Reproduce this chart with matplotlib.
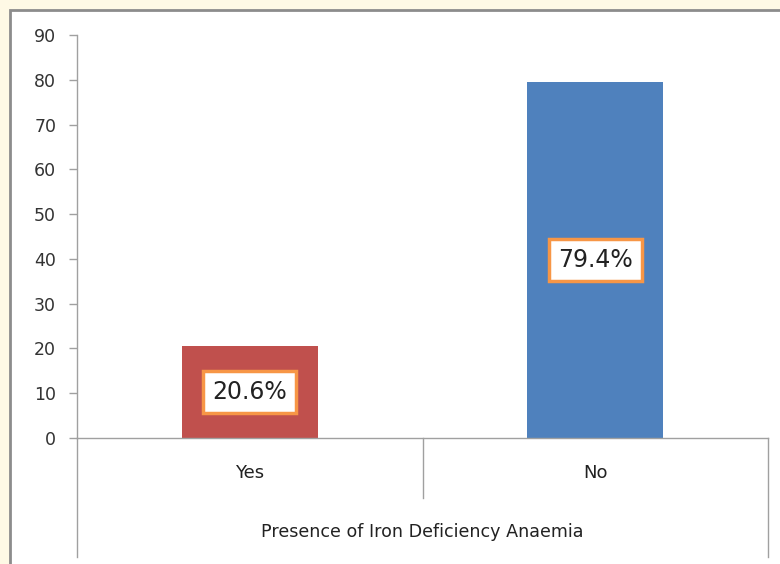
import matplotlib
matplotlib.use("Agg")
import matplotlib.pyplot as plt
from matplotlib.patches import Rectangle
import matplotlib.transforms as mtransforms

categories = ["Yes", "No"]
values = [20.6, 79.4]
value_labels = ["20.6%", "79.4%"]
bar_colors = ["#C0504D", "#4F81BD"]
yticks = [0, 10, 20, 30, 40, 50, 60, 70, 80, 90]
xlabel = "Presence of Iron Deficiency Anaemia"

plt.rcParams['font.family'] = ['DejaVu Sans']

W, H = 780, 564
fig = plt.figure(figsize=(W / 100, H / 100), dpi=100)
fig.patch.set_facecolor("#FEF9E5")

# outer white chart box with gray border
fig.patches.append(Rectangle((10 / W, -0.1), 1.2, (H - 10) / H + 0.1,
                             transform=fig.transFigure, facecolor="white",
                             edgecolor="#8C8C8C", linewidth=2, zorder=-10))

ax = fig.add_axes([77 / W, (H - 438) / H, (768 - 77) / W, (438 - 35) / H])
ax.set_zorder(1)
ax.patch.set_alpha(0)

x = list(range(len(categories)))
ax.bar(x, values, width=0.395, color=bar_colors, zorder=2)

ax.set_xlim(-0.5, len(categories) - 0.5)
ax.set_ylim(0, 90)
ax.set_yticks(yticks)
ax.set_yticklabels([str(t) for t in yticks], fontsize=12.5, color="#333333")
ax.tick_params(axis="y", direction="out", length=6, width=1, color="#A0A0A0", pad=9)
ax.set_xticks([])

for s in ["top", "right"]:
    ax.spines[s].set_visible(False)
ax.spines["left"].set_color("#A0A0A0")
ax.spines["bottom"].set_color("#A0A0A0")
ax.spines["left"].set_linewidth(1)
ax.spines["bottom"].set_linewidth(1)

trans = mtransforms.blended_transform_factory(ax.transData, ax.transAxes)
# category separators
n = len(categories)
for i in range(n + 1):
    xb = i - 0.5
    y0 = -0.295 if i in (0, n) else -0.149
    ax.plot([xb, xb], [0, y0], transform=trans, color="#A0A0A0", lw=1, clip_on=False)

for i, c in enumerate(categories):
    ax.text(i, -0.086, c, transform=trans, ha="center", va="center", fontsize=13, color="#222222")

ax.text(0.5 * (n - 1), -0.234, xlabel, transform=trans, ha="center", va="center",
        fontsize=12.6, color="#222222")

for i, (v, lab) in enumerate(zip(values, value_labels)):
    ax.text(i, v / 2, lab, ha="center", va="center", fontsize=17, color="#222222", zorder=3,
            bbox=dict(boxstyle="square,pad=0.39", facecolor="white", edgecolor="#F79646", linewidth=2.5))

fig.savefig("out.png", dpi=100, facecolor=fig.get_facecolor())
